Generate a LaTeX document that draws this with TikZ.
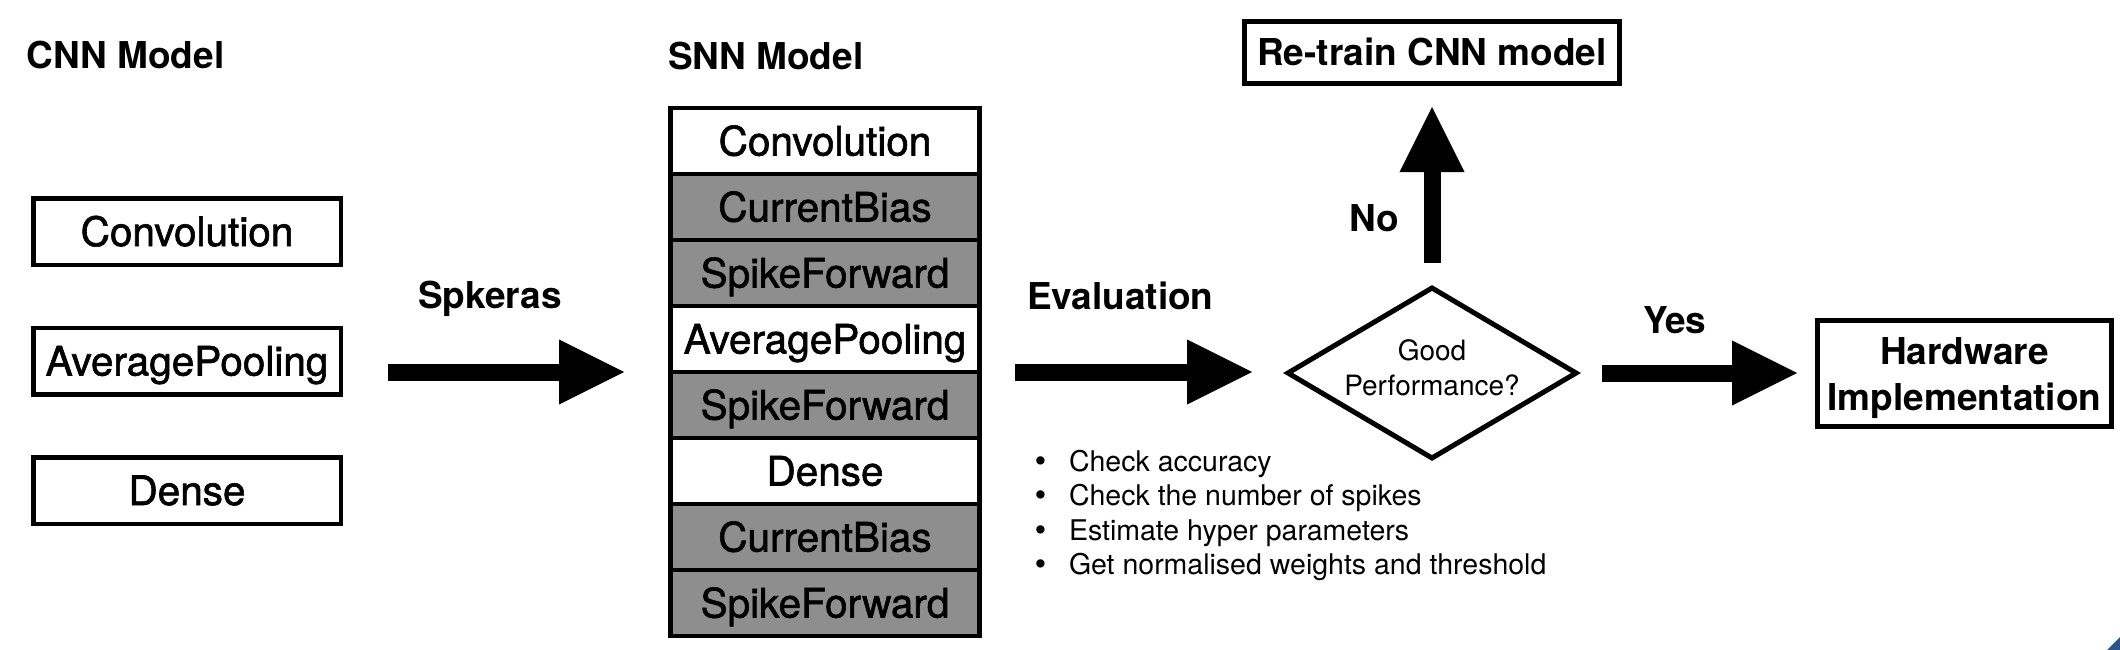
\documentclass[tikz,border=0pt]{standalone}
\usepackage{fontspec}
\setmainfont{TeX Gyre Heros}
\newfontfamily\medfont[FakeBold=1.5]{TeX Gyre Heros}
\newfontfamily\dejavu{DejaVu Sans}
\usetikzlibrary{arrows.meta,shapes.geometric}
\definecolor{cellgray}{RGB}{142,142,142}
\definecolor{cornerblue}{RGB}{44,84,134}
\newcommand{\bigbul}{\makebox[37pt][l]{\dejavu •}}
\begin{document}
\begin{tikzpicture}[x=1pt,y=-1pt,
  lbl/.style={font=\fontsize{37}{44}\selectfont\bfseries, inner sep=0pt, outer sep=0pt, anchor=base west},
  layer/.style={draw, line width=4.5pt, minimum width=309pt, minimum height=66pt, inner sep=0pt, outer sep=0pt, font=\medfont\fontsize{40.5}{48}\selectfont, text height=29pt, text depth=0pt},
  cnnbox/.style={layer, minimum width=307.5pt, minimum height=66.5pt},
  snnw/.style={layer, fill=white},
  snng/.style={layer, fill=cellgray},
  thickbox/.style={draw, line width=5pt, inner sep=0pt, outer sep=0pt, font=\fontsize{37}{46}\selectfont\bfseries, align=center},
  bigarrow/.style={line width=17pt, -{Triangle[length=65pt,width=65pt,line width=0pt]}},
  bullettext/.style={font=\fontsize{28.5}{34}\selectfont, inner sep=0pt, outer sep=0pt, anchor=base west}
]
\useasboundingbox (0,0) rectangle (2120,650);

% titles and labels
\node[lbl] (cnntitle) at (27,69) {CNN Model};
\node[lbl] (snntitle) at (668,70) {SNN Model};
\node[lbl] (spk) at (418,308) {Spkeras};
\node[lbl] (evl) at (1027,309) {Evaluation};
\node[lbl] (nolbl) at (1349,231) {No};
\node[lbl] (yeslbl) at (1643,333) {Yes};

% CNN model
\node[cnnbox] (cnnconv) at (187,231.5) {Convolution};
\node[cnnbox] (cnnpool) at (187,361) {AveragePooling};
\node[cnnbox] (cnndense) at (187,490.5) {Dense};

% SNN model stack
\node[snnw] (snn1) at (825,141) {Convolution};
\node[snng] (snn2) at (825,207) {CurrentBias};
\node[snng] (snn3) at (825,273) {SpikeForward};
\node[snnw] (snn4) at (825,339) {AveragePooling};
\node[snng] (snn5) at (825,405) {SpikeForward};
\node[snnw] (snn6) at (825,471) {Dense};
\node[snng] (snn7) at (825,537) {CurrentBias};
\node[snng] (snn8) at (825,603) {SpikeForward};

% decision
\node[diamond, draw, line width=5pt, minimum width=288pt, minimum height=170pt, inner sep=0pt, outer sep=0pt] (dec) at (1432,373) {};
\node[font=\fontsize{28}{35}\selectfont, align=center, inner sep=0pt, outer sep=0pt, text height=57pt, text depth=12pt] (dectext) at (dec.center) {Good\\Performance?};

% result boxes
\node[thickbox, minimum width=375pt, minimum height=62pt, text height=26.6pt, text depth=0pt] (retrain) at (1432,52.5) {Re-train CNN model};
\node[thickbox, minimum width=294pt, minimum height=106pt, text height=73pt, text depth=0pt] (hw) at (1964.5,373.5) {Hardware\\Implementation};

% bullet list
\node[bullettext] (b1) at (1032,471) {\bigbul Check accuracy};
\node[bullettext] (b2) at (1032,505) {\bigbul Check the number of spikes};
\node[bullettext] (b3) at (1032,540) {\bigbul Estimate hyper parameters};
\node[bullettext] (b4) at (1032,574) {\bigbul Get normalised weights and threshold};

% arrows
\draw[bigarrow, shorten <=47.25pt, shorten >=46.5pt] (cnnpool.east |- snn4.south west) -- (snn4.south west);
\draw[bigarrow, shorten <=35.5pt, shorten >=36pt] (snn4.south east) -- (snn4.south east -| dec.west);
\draw[bigarrow, shorten <=25.5pt, shorten >=23.5pt] (dec.north) -- (retrain.south);
\draw[bigarrow, shorten <=26pt, shorten >=20.5pt] (dec.east) -- (dec.east -| hw.west);

% corner decoration
\fill[cornerblue] (2107,650) -- (2120,637) -- (2120,650) -- cycle;
\end{tikzpicture}
\end{document}
